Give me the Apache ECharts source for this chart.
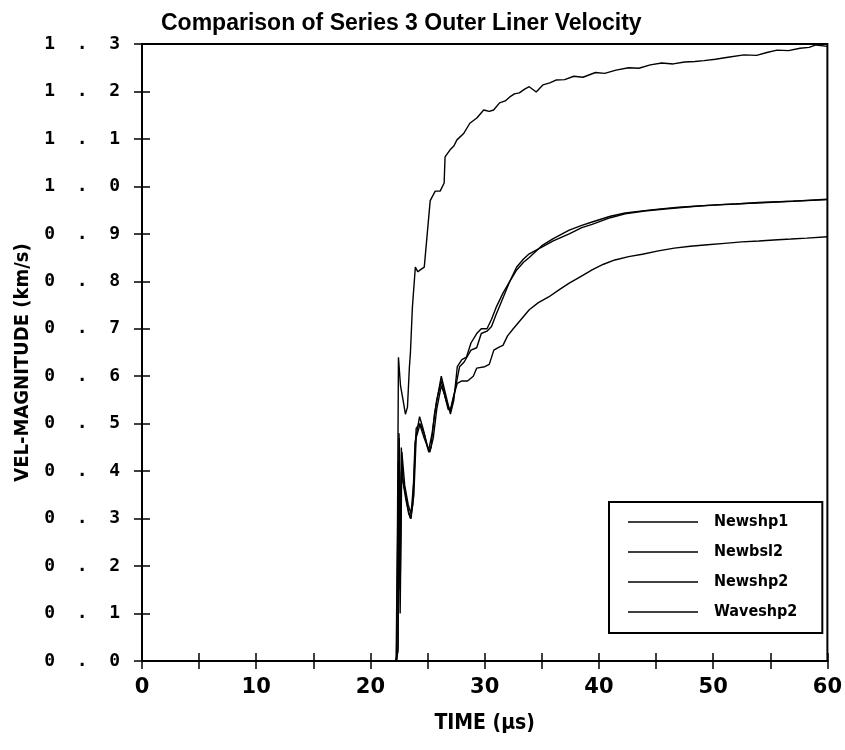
<!DOCTYPE html>
<html>
<head>
<meta charset="utf-8">
<script src="https://cdn.jsdelivr.net/npm/echarts@6/dist/echarts.min.js"></script>
<style>
  html, body { margin: 0; padding: 0; background: #fff; }
  #chart { width: 845px; height: 750px; }
</style>
</head>
<body>
<div id="chart"></div>
<script>
// 数据：时间 (µs) 与速度 (km/s)
const newshp1T = [0, 22.25, 22.37, 22.45, 22.63, 22.85, 23.06, 23.24, 23.41, 23.5, 23.67, 23.93, 24.15, 24.36, 24.71, 24.97, 25.23, 25.67, 26.1, 26.45, 26.53, 26.97, 27.3, 27.57, 28.18, 28.7, 29.31, 29.91, 30.4, 30.78, 31.3, 31.8, 32.17, 32.6, 33.03, 33.5, 33.9, 34.51, 35.11, 35.7, 36.24, 37.0, 37.8, 38.6, 39.7, 40.5, 41.5, 42.6, 43.5, 44.5, 45.5, 46.5, 47.5, 48.4, 49.2, 50.2, 51.3, 52.7, 53.8, 54.7, 55.6, 56.6, 57.6, 58.4, 59.0, 60]
const newshp1V = [0, 0, 0.3, 0.64, 0.58, 0.55, 0.52, 0.535, 0.62, 0.65, 0.745, 0.83, 0.82, 0.824, 0.83, 0.9, 0.97, 0.99, 0.99, 1.007, 1.062, 1.077, 1.085, 1.098, 1.112, 1.133, 1.144, 1.161, 1.158, 1.161, 1.176, 1.18, 1.188, 1.195, 1.197, 1.205, 1.21, 1.199, 1.214, 1.218, 1.224, 1.225, 1.232, 1.23, 1.24, 1.238, 1.245, 1.25, 1.249, 1.256, 1.26, 1.258, 1.262, 1.263, 1.265, 1.268, 1.272, 1.277, 1.276, 1.282, 1.287, 1.286, 1.291, 1.293, 1.298, 1.295]

const newbsl2T = [0, 22.2, 22.4, 22.5, 22.6, 22.7, 22.85, 23.0, 23.3, 23.5, 23.7, 23.9, 24.3, 24.6, 24.9, 25.1, 25.3, 25.6, 25.9, 26.2, 26.5, 26.8, 27.0, 27.3, 27.6, 28.0, 28.4, 28.8, 29.3, 29.7, 30.2, 30.6, 31.0, 31.6, 32.2, 32.8, 33.4, 33.9, 35.0, 36.0, 37.4, 38.5, 39.4, 41.0, 42.3, 44.0, 45.2, 47.0, 49.5, 52.0, 54.0, 57.0, 60]
const newbsl2V = [0, 0, 0.02, 0.48, 0.2, 0.45, 0.38, 0.36, 0.32, 0.3, 0.33, 0.46, 0.515, 0.49, 0.46, 0.44, 0.45, 0.52, 0.56, 0.6, 0.57, 0.54, 0.52, 0.55, 0.62, 0.635, 0.64, 0.67, 0.69, 0.7, 0.7, 0.72, 0.745, 0.775, 0.8, 0.824, 0.84, 0.85, 0.875, 0.89, 0.908, 0.918, 0.925, 0.937, 0.944, 0.949, 0.952, 0.956, 0.96, 0.963, 0.966, 0.969, 0.973]

const newshp2T = [0, 22.3, 22.42, 22.52, 22.6, 22.72, 22.9, 23.1, 23.35, 23.55, 23.8, 24.0, 24.35, 24.7, 25.0, 25.2, 25.5, 25.8, 26.2, 26.5, 26.8, 27.0, 27.3, 27.6, 28.0, 28.5, 29.0, 29.3, 30.0, 30.4, 30.8, 31.3, 31.6, 32.0, 32.5, 33.2, 33.9, 34.7, 35.6, 36.5, 37.4, 38.4, 39.4, 40.4, 41.4, 42.6, 43.8, 45.2, 46.6, 48.0, 49.5, 51.0, 52.5, 54.0, 55.3, 56.8, 58.2, 60]
const newshp2V = [0, 0, 0.03, 0.47, 0.15, 0.4, 0.37, 0.34, 0.31, 0.3, 0.35, 0.47, 0.5, 0.48, 0.45, 0.44, 0.47, 0.53, 0.58, 0.56, 0.53, 0.53, 0.56, 0.585, 0.59, 0.59, 0.6, 0.617, 0.62, 0.625, 0.655, 0.662, 0.665, 0.685, 0.7, 0.72, 0.74, 0.755, 0.767, 0.782, 0.796, 0.81, 0.824, 0.836, 0.845, 0.852, 0.857, 0.864, 0.87, 0.874, 0.877, 0.88, 0.883, 0.885, 0.887, 0.889, 0.891, 0.894]

const waveshp2T = [0, 22.28, 22.45, 22.6, 22.75, 23.0, 23.3, 23.55, 23.8, 24.0, 24.3, 24.7, 25.1, 25.4, 25.8, 26.2, 26.6, 27.0, 27.4, 27.8, 28.2, 28.8, 29.3, 29.7, 30.2, 30.6, 31.0, 31.6, 32.2, 32.8, 33.4, 33.9, 35.0, 36.0, 37.4, 38.5, 39.4, 41.0, 42.3, 44.0, 46.0, 48.5, 51.0, 53.8, 56.5, 60]
const waveshp2V = [0, 0, 0.42, 0.1, 0.44, 0.37, 0.33, 0.31, 0.38, 0.49, 0.5, 0.47, 0.445, 0.48, 0.55, 0.59, 0.55, 0.525, 0.57, 0.62, 0.63, 0.655, 0.66, 0.69, 0.695, 0.705, 0.73, 0.765, 0.8, 0.83, 0.847, 0.858, 0.872, 0.885, 0.9, 0.913, 0.92, 0.934, 0.942, 0.948, 0.953, 0.958, 0.962, 0.965, 0.968, 0.972]

const seriesNames = ['Newshp1', 'Newbsl2', 'Newshp2', 'Waveshp2']
const seriesT = [newshp1T, newbsl2T, newshp2T, waveshp2T]
const seriesV = [newshp1V, newbsl2V, newshp2V, waveshp2V]

const chart = echarts.init(document.getElementById('chart'))

const labelFont = 'DejaVu Sans'
const nameFont = '"Liberation Sans Narrow", "DejaVu Sans Condensed", "Liberation Sans"'

const option = {
  animation: false,
  backgroundColor: '#fff',
  title: {
    text: 'Comparison of Series 3 Outer Liner Velocity',
    left: 156,
    top: 7,
    textStyle: { fontFamily: 'Liberation Sans', fontSize: 23, fontWeight: 'bold', color: '#000' },
  },
  grid: {
    left: 142, right: 11, top: 44, bottom: 89,
    show: true, borderColor: '#000', borderWidth: 2, backgroundColor: 'transparent',
  },
  legend: {
    orient: 'vertical',
    left: 609,
    top: 502,
    itemWidth: 70,
    itemHeight: 18,
    itemGap: 14,
    icon: 'path://M0,0H70V1.5H0Z',
    itemStyle: { color: '#000' },
    padding: [12, 25, 13, 19],
    borderColor: '#000',
    borderWidth: 2,
    backgroundColor: '#fff',
    textStyle: { fontFamily: nameFont, fontSize: 16, fontWeight: 'bold', color: '#000', width: 78, padding: [0, 0, 0, 11] },
    data: seriesNames,
  },
  xAxis: [
  {
      type: 'value', min: 0, max: 60, interval: 5,
      name: 'TIME (μs)', nameLocation: 'middle', nameGap: 52,
      nameTextStyle: { fontFamily: nameFont, fontSize: 21, fontWeight: 'bold', color: '#000' },
      axisLine: { lineStyle: { color: '#000', width: 2 } },
      axisTick: { inside: true, length: 8, lineStyle: { color: '#000', width: 1.5 } },
      axisLabel: {
        margin: 16, fontFamily: labelFont, fontSize: 21, fontWeight: 'bold', color: '#000',
        formatter: v => (v % 10 === 0 ? String(v) : ''),
      },
      splitLine: { show: false },
    },
  {
      type: 'value', min: 0, max: 60, interval: 5, position: 'top',
      axisLine: { lineStyle: { color: '#000', width: 2 } },
      axisTick: { inside: true, length: 8, lineStyle: { color: '#000', width: 1.5 } },
      axisLabel: { show: false },
      splitLine: { show: false },
    },
  ],
  yAxis: [
  {
      type: 'value', min: 0, max: 1.3, interval: 0.1,
      name: 'VEL-MAGNITUDE (km/s)', nameLocation: 'middle', nameGap: 106, nameRotate: 90,
      nameTextStyle: { fontFamily: nameFont, fontSize: 20, fontWeight: 'bold', color: '#000', padding: [0, 20, 0, 0] },
      axisLine: { lineStyle: { color: '#000', width: 2 } },
      axisTick: { inside: true, length: 8, lineStyle: { color: '#000', width: 1.5 } },
      axisLabel: {
        margin: 22, fontFamily: 'DejaVu Sans Mono', fontSize: 18, fontWeight: 'bold', color: '#000',
        formatter: v => v.toFixed(1).split('').join('  '),
      },
      splitLine: { show: false },
    },
  {
      type: 'value', min: 0, max: 1.3, interval: 0.1, position: 'right',
      axisLine: { lineStyle: { color: '#000', width: 2 } },
      axisTick: { inside: true, length: 8, lineStyle: { color: '#000', width: 1.5 } },
      axisLabel: { show: false },
      splitLine: { show: false },
    },
  ],
  series: seriesNames.map((name, i) => ({
    name,
    type: 'line',
    symbol: 'none',
    color: '#000',
    lineStyle: { color: '#000', width: 1.4 },
    data: seriesT[i].map((t, k) => [t, seriesV[i][k]]),
  })),
}

chart.setOption(option)
</script>
</body>
</html>
